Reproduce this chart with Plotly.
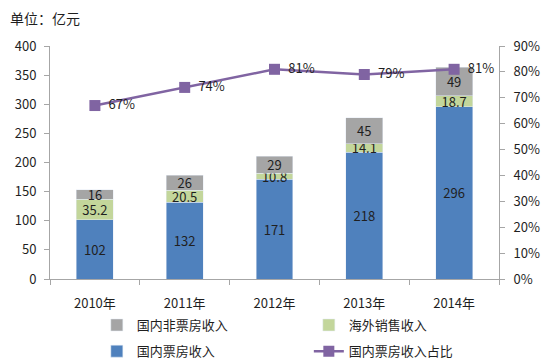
import plotly.graph_objects as go

years = ["2010年", "2011年", "2012年", "2013年", "2014年"]
box_office = [102, 132, 171, 218, 296]
overseas = [35.2, 20.5, 10.8, 14.1, 18.7]
non_box = [16, 26, 29, 45, 49]
share = [0.67, 0.74, 0.81, 0.79, 0.81]

font = "Microsoft YaHei, Noto Sans CJK SC, sans-serif"
tc = "#1F1F1F"

bar_text = dict(textposition="inside", insidetextanchor="middle", textangle=0,
                constraintext="none", textfont=dict(size=13, color=tc))

fig = go.Figure()
fig.add_trace(go.Bar(x=years, y=box_office, name="国内票房收入", marker_color="#4F81BD",
                     text=[str(v) for v in box_office], legend="legend2", legendrank=1, **bar_text))
fig.add_trace(go.Bar(x=years, y=overseas, name="海外销售收入", marker_color="#C3D69B",
                     text=[str(v) for v in overseas], legend="legend", legendrank=2, **bar_text))
fig.add_trace(go.Bar(x=years, y=non_box, name="国内非票房收入", marker_color="#A5A5A5",
                     text=[str(v) for v in non_box], legend="legend", legendrank=1, **bar_text))
fig.add_trace(go.Scatter(x=years, y=share, name="国内票房收入占比", yaxis="y2", mode="lines+markers+text",
                         line=dict(color="#8064A2", width=2.5),
                         marker=dict(symbol="square", size=11, color="#8064A2"),
                         text=["\u00a0\u00a0" + f"{round(v*100)}%" for v in share],
                         textposition="middle right",
                         textfont=dict(size=13, color=tc), legend="legend2", legendrank=2))

leg_common = dict(orientation="h", xref="container", yref="container", xanchor="left",
                  yanchor="middle", entrywidth=167, entrywidthmode="pixels",
                  font=dict(size=13, color=tc), bgcolor="rgba(0,0,0,0)")

fig.update_layout(
    width=545, height=354, barmode="stack", bargap=0.59,
    margin=dict(l=42, r=54, t=38, b=83, autoexpand=False),
    paper_bgcolor="white", plot_bgcolor="white",
    font=dict(family=font, size=13, color=tc),
    xaxis=dict(showline=True, linecolor="#A6A6A6", ticks="outside", tickson="boundaries",
               tickcolor="#A6A6A6", ticklen=5, tickfont=dict(size=13, color=tc),
               ticklabelstandoff=12, automargin=False),
    yaxis=dict(range=[0, 400], dtick=50, showline=True, linecolor="#A6A6A6", ticks="outside",
               tickcolor="#A6A6A6", ticklen=5, showgrid=False, zeroline=False,
               tickfont=dict(size=13, color=tc), ticklabelstandoff=5, automargin=False),
    yaxis2=dict(range=[0, 0.9], dtick=0.1, tickformat=".0%", overlaying="y", side="right",
                showline=True, linecolor="#A6A6A6", ticks="outside", tickcolor="#A6A6A6",
                ticklen=5, showgrid=False, zeroline=False, tickfont=dict(size=13, color=tc),
                ticklabelstandoff=6, automargin=False),
    legend=dict(x=0.163, y=0.1045, traceorder="normal", **leg_common),
    legend2=dict(x=0.163, y=0.0305, traceorder="normal", **leg_common),
    showlegend=True,
)
fig.add_annotation(text="单位：亿元", xref="paper", yref="paper", x=-0.093, y=1.12,
                   xanchor="left", yanchor="middle", showarrow=False,
                   font=dict(size=14, color=tc, family=font))
fig.write_html("out.html")
